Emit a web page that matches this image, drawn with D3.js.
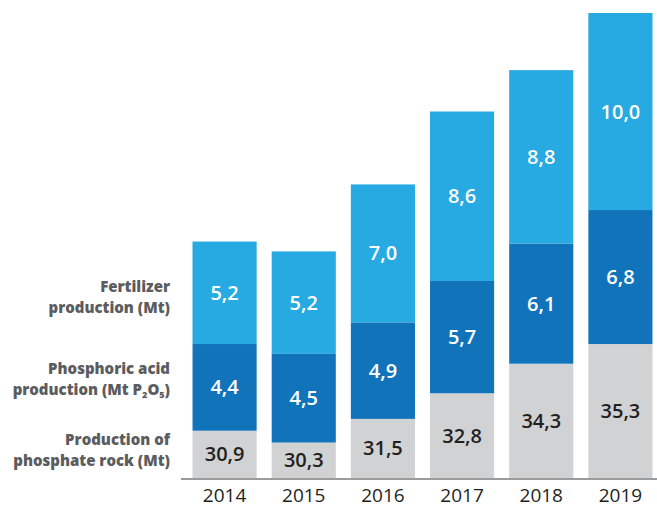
<!DOCTYPE html>
<html>
<head>
<meta charset="utf-8">
<script src="https://cdn.jsdelivr.net/npm/d3@7"></script>
<style>
  body { margin: 0; background: #fff; }
  #chart { width: 657px; height: 507px; }
  .val { font-family: "Open Sans", sans-serif; font-size: 20px; font-weight: 600; }
  .yr { font-family: "Open Sans", sans-serif; font-size: 19px; fill: #231f20; }
  .lbl { font-family: "Open Sans", sans-serif; font-size: 15px; font-weight: 800; fill: #5b5c5e; }
</style>
</head>
<body>
<div id="chart"></div>
<script>
var years = ["2014", "2015", "2016", "2017", "2018", "2019"];
var rock = [30.9, 30.3, 31.5, 32.8, 34.3, 35.3];
var acid = [4.4, 4.5, 4.9, 5.7, 6.1, 6.8];
var fert = [5.2, 5.2, 7.0, 8.6, 8.8, 10.0];

var width = 657, height = 507;
var svg = d3.select("#chart").append("svg")
  .attr("width", width)
  .attr("height", height);

var baseY = 478;

var xScale = d3.scaleBand()
  .domain(years)
  .range([185, 660])
  .paddingInner(0.19)
  .paddingOuter(0.095);

// the rock bars start from a cut baseline, so the scale doesn't start at zero
var yScale = d3.scaleLinear()
  .domain([28.5, 52.1])
  .range([baseY, 13]);

var data = years.map(function(y, i) {
  return {year: y, rock: rock[i], acid: acid[i], fert: fert[i]};
});

var series = [
  {key: "rock", color: "#d1d2d4", text: "#231f20"},
  {key: "acid", color: "#1174bb", text: "#ffffff"},
  {key: "fert", color: "#27a9e1", text: "#ffffff"}
];

var stack = d3.stack()
  .keys(["rock", "acid", "fert"])
  .offset(function(s, order) {
    d3.stackOffsetNone(s, order);
    // bottom layer starts at the cut baseline
    s[order[0]].forEach(function(seg) { seg[0] = yScale.domain()[0]; });
  });
var stacked = stack(data);

var fmt = function(v) { return d3.format(".1f")(v).replace(".", ","); };

stacked.forEach(function(layer, li) {
  var g = svg.append("g");
  g.selectAll("rect")
    .data(layer)
    .enter()
    .append("rect")
      .attr("x", function(d) { return xScale(d.data.year); })
      .attr("y", function(d) { return yScale(d[1]); })
      .attr("width", xScale.bandwidth())
      .attr("height", function(d) { return yScale(d[0]) - yScale(d[1]); })
      .attr("fill", series[li].color);

  g.selectAll("text")
    .data(layer)
    .enter()
    .append("text")
      .attr("class", "val")
      .attr("x", function(d) { return xScale(d.data.year) + xScale.bandwidth() / 2; })
      .attr("y", function(d) { return (yScale(d[0]) + yScale(d[1])) / 2 + 7; })
      .attr("text-anchor", "middle")
      .attr("fill", series[li].text)
      .text(function(d) { return fmt(d.data[series[li].key]); });
});

// axis line
svg.append("line")
  .attr("x1", 181).attr("x2", 657)
  .attr("y1", baseY + 1).attr("y2", baseY + 1)
  .attr("stroke", "#7a7a7a")
  .attr("stroke-width", 1.5);

svg.selectAll(".yr")
  .data(years)
  .enter()
  .append("text")
    .attr("class", "yr")
    .attr("x", function(d) { return xScale(d) + xScale.bandwidth() / 2; })
    .attr("y", 502)
    .attr("text-anchor", "middle")
    .text(function(d) { return d; });

// series labels on the left
var lx = 170;
var lab1 = svg.append("text").attr("class", "lbl").attr("text-anchor", "end");
lab1.append("tspan").attr("x", lx).attr("y", 292).text("Fertilizer");
lab1.append("tspan").attr("x", lx).attr("y", 313).text("production (Mt)");

var lab2 = svg.append("text").attr("class", "lbl").attr("text-anchor", "end");
lab2.append("tspan").attr("x", lx).attr("y", 374).text("Phosphoric acid");
var l2 = lab2.append("tspan").attr("x", lx).attr("y", 395);
l2.append("tspan").text("production (Mt P");
l2.append("tspan").attr("font-size", "9px").attr("dy", 3).text("2");
l2.append("tspan").attr("dy", -3).text("O");
l2.append("tspan").attr("font-size", "9px").attr("dy", 3).text("5");
l2.append("tspan").attr("dy", -3).text(")");

var lab3 = svg.append("text").attr("class", "lbl").attr("text-anchor", "end");
lab3.append("tspan").attr("x", lx).attr("y", 445).text("Production of");
lab3.append("tspan").attr("x", lx).attr("y", 466).text("phosphate rock (Mt)");
</script>
</body>
</html>
